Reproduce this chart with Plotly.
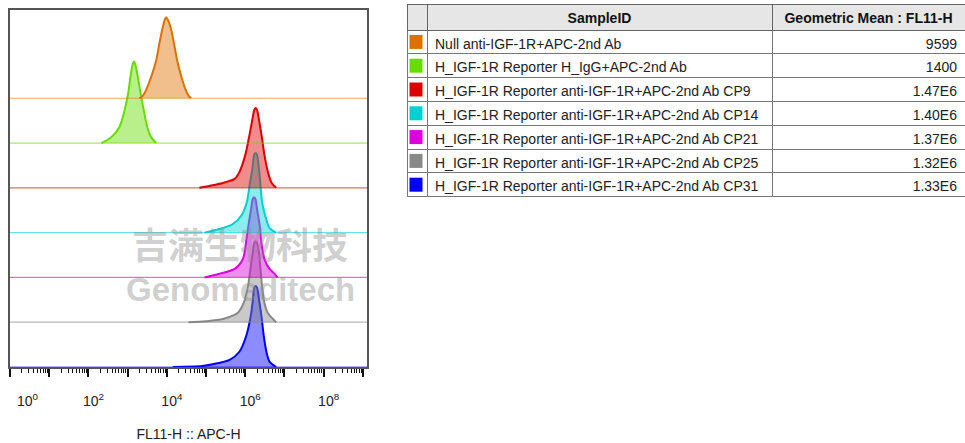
import plotly.graph_objects as go

W, H = 965, 443

# ---------------- data ----------------
samples = [
    "Null anti-IGF-1R+APC-2nd Ab",
    "H_IGF-1R Reporter H_IgG+APC-2nd Ab",
    "H_IGF-1R Reporter anti-IGF-1R+APC-2nd Ab CP9",
    "H_IGF-1R Reporter anti-IGF-1R+APC-2nd Ab CP14",
    "H_IGF-1R Reporter anti-IGF-1R+APC-2nd Ab CP21",
    "H_IGF-1R Reporter anti-IGF-1R+APC-2nd Ab CP25",
    "H_IGF-1R Reporter anti-IGF-1R+APC-2nd Ab CP31",
]
geo_means = ["9599", "1400", "1.47E6", "1.40E6", "1.37E6", "1.32E6", "1.33E6"]
colors = ["#dd7100", "#66dd00", "#dd0000", "#00d2d2", "#dd00dd", "#888888", "#0000ff"]
table_headers = ["", "SampleID", "Geometric Mean : FL11-H"]

# histogram outlines: log10(FL11-H) and normalised height (mode = ~1.8)
orange_logx = [3.30, 3.40, 3.47, 3.60, 3.73, 3.81, 3.90, 3.95, 3.98, 4.02, 4.09, 4.18, 4.26, 4.37, 4.48, 4.55, 4.62]
orange_h = [0.0, 0.07, 0.185, 0.48, 0.855, 1.23, 1.60, 1.76, 1.81, 1.76, 1.60, 1.23, 0.855, 0.48, 0.185, 0.06, 0.0]
green_logx = [2.33, 2.58, 2.79, 2.92, 3.01, 3.07, 3.13, 3.16, 3.19, 3.26, 3.33, 3.41, 3.50, 3.60, 3.73]
green_h = [0.0, 0.13, 0.36, 0.73, 1.10, 1.47, 1.77, 1.82, 1.77, 1.47, 1.10, 0.73, 0.36, 0.13, 0.0]
red_logx = [4.83, 5.13, 5.47, 5.73, 5.85, 6.00, 6.09, 6.17, 6.23, 6.26, 6.30, 6.36, 6.43, 6.49, 6.58, 6.68, 6.79]
red_h = [0.0, 0.05, 0.12, 0.20, 0.35, 0.73, 1.10, 1.47, 1.74, 1.78, 1.74, 1.47, 1.10, 0.73, 0.35, 0.10, 0.0]
cyan_logx = [4.96, 5.34, 5.68, 5.90, 6.04, 6.11, 6.18, 6.23, 6.26, 6.30, 6.35, 6.39, 6.43, 6.51, 6.62, 6.79]
cyan_h = [0.0, 0.08, 0.19, 0.38, 0.68, 1.05, 1.42, 1.74, 1.78, 1.74, 1.42, 1.05, 0.68, 0.38, 0.10, 0.0]
magenta_logx = [4.96, 5.34, 5.73, 5.94, 6.02, 6.08, 6.15, 6.19, 6.22, 6.26, 6.30, 6.37, 6.41, 6.49, 6.62, 6.75, 6.82]
magenta_h = [0.0, 0.08, 0.19, 0.41, 0.78, 1.15, 1.53, 1.75, 1.79, 1.75, 1.53, 1.15, 0.78, 0.41, 0.19, 0.08, 0.0]
gray_logx = [4.55, 5.00, 5.43, 5.81, 5.96, 6.07, 6.13, 6.19, 6.23, 6.26, 6.30, 6.35, 6.39, 6.43, 6.49, 6.58, 6.79]
gray_h = [0.0, 0.02, 0.07, 0.21, 0.43, 0.80, 1.18, 1.55, 1.77, 1.81, 1.77, 1.55, 1.18, 0.80, 0.43, 0.20, 0.0]
blue_logx = [4.15, 4.90, 5.17, 5.60, 5.85, 6.03, 6.13, 6.19, 6.23, 6.26, 6.30, 6.36, 6.42, 6.47, 6.54, 6.62, 6.79]
blue_h = [0.0, 0.02, 0.06, 0.16, 0.34, 0.71, 1.09, 1.46, 1.77, 1.81, 1.77, 1.46, 1.09, 0.71, 0.34, 0.12, 0.0]

curves_logx = [orange_logx, green_logx, red_logx, cyan_logx, magenta_logx, gray_logx, blue_logx]
curves_h = [orange_h, green_h, red_h, cyan_h, magenta_h, gray_h, blue_h]

major_exps = list(range(0, 10))
label_exps = [2, 4, 6, 8]      # 10^0 is drawn separately, nudged inward like the original
x_title = "FL11-H :: APC-H"


def rgba(hexc, a):
    h = hexc.lstrip("#")
    r, g, b = int(h[0:2], 16), int(h[2:4], 16), int(h[4:6], 16)
    return f"rgba({r},{g},{b},{a})"


fig = go.Figure()

n = len(samples)
XMIN, XMAX = 10 ** -0.06, 10 ** 9.107
# draw bottom histogram first, top last
for i in reversed(range(n)):
    off = n - 1 - i
    col = colors[i]
    fig.add_trace(go.Scatter(
        x=[XMIN, XMAX], y=[off, off], mode="lines",
        line=dict(color=rgba(col, 0.6), width=1.2), hoverinfo="skip", showlegend=False,
        cliponaxis=False))
    xs = [10 ** v for v in curves_logx[i]]
    ys = [off + v for v in curves_h[i]]
    fig.add_trace(go.Scatter(
        x=xs, y=ys, mode="lines", fill="tonexty", fillcolor=rgba(col, 0.45),
        line=dict(color=col, width=2, shape="spline", smoothing=0.8),
        hoverinfo="skip", showlegend=False, name=samples[i]))

# ---------------- axes ----------------
L, R, T, B = 10, 367, 10, 367
tickvals = [10 ** e for e in major_exps]
ticktext = [f"10<sup>{e}</sup>" if e in label_exps else "" for e in major_exps]
minor_vals = [k * 10 ** e for e in range(0, 9) for k in range(2, 10)]

fig.update_layout(
    width=W, height=H, margin=dict(l=0, r=0, t=0, b=0),
    paper_bgcolor="white", plot_bgcolor="white",
    font=dict(family="Liberation Sans, Arial, sans-serif", color="#222"),
    xaxis=dict(
        type="log", range=[-0.003, 9.107], domain=[L / W, R / W], automargin=False,
        showline=True, linecolor="#555", linewidth=1.5, mirror=True,
        showgrid=False, zeroline=False,
        tickmode="array", tickvals=tickvals, ticktext=ticktext,
        ticks="outside", ticklen=8, tickwidth=2.2, tickcolor="#111",
        tickfont=dict(size=14, color="#222"), ticklabelstandoff=12,
        ticklabelshift=5,
        minor=dict(tickmode="array", tickvals=minor_vals, ticks="outside",
                   ticklen=4, tickwidth=1.3, tickcolor="#111", showgrid=False),
        title=dict(text=x_title, font=dict(size=14, color="#222"), standoff=22),
    ),
    yaxis=dict(
        range=[0, 7.97], domain=[1 - B / H, 1 - T / H], automargin=False,
        showline=True, linecolor="#555", linewidth=1.5, mirror=True,
        showgrid=False, zeroline=False, showticklabels=False, ticks="",
    ),
)

# first decade label, placed on the axis but nudged inside like the original
fig.add_annotation(text="10<sup>0</sup>", x=0, xref="x", y=1 - 400 / H, yref="paper",
                   xanchor="center", yanchor="middle", xshift=18, showarrow=False,
                   font=dict(size=14, color="#222"))

# ---------------- table ----------------
TX0 = 407
hdr_h, row_h = 26, 23.8
fig.add_trace(go.Table(
    domain=dict(x=[TX0 / W, 1.0], y=[0, 1 - 4 / H]),
    columnwidth=[20, 345, 193],
    header=dict(
        values=table_headers,
        fill_color="#e6e6e6", line=dict(color="#666", width=1),
        align="center",
        font=dict(size=14, color="#111", family="Liberation Sans, Arial", weight="bold"),
        height=hdr_h,
    ),
    cells=dict(
        values=[[""] * n, samples, geo_means],
        fill_color=[["rgba(0,0,0,0)"] * n, ["rgba(0,0,0,0)"] * n, ["rgba(0,0,0,0)"] * n],
        line=dict(color="#777", width=1),
        align=["center", "left", "right"],
        font=dict(size=14, color="#222", family="Liberation Sans, Arial"),
        height=row_h,
    ),
))

# colour swatches in the first table column
for i, col in enumerate(colors):
    yc = 4 + hdr_h + row_h * i + row_h / 2
    fig.add_shape(type="rect", xref="paper", yref="paper",
                  x0=(TX0 + 2.5) / W, x1=(TX0 + 15.5) / W,
                  y0=1 - (yc - 7) / H, y1=1 - (yc + 7) / H,
                  fillcolor=col, line=dict(width=0), layer="below")

# ---------------- watermark ----------------
fig.add_annotation(text="<b>吉满生物科技</b>", xref="paper", yref="paper",
                   x=240 / W, y=1 - 243 / H, xanchor="center", yanchor="middle",
                   showarrow=False,
                   font=dict(size=36, color="rgba(140,140,140,0.42)",
                             family="Noto Sans CJK SC"))
fig.add_annotation(text="<b>Genomeditech</b>", xref="paper", yref="paper",
                   x=240 / W, y=1 - 289 / H, xanchor="center", yanchor="middle",
                   showarrow=False,
                   font=dict(size=33, color="rgba(140,140,140,0.42)",
                             family="Liberation Sans, Arial"))

fig.write_html("out.html", config={"displayModeBar": False},
               post_script="document.body.style.margin='0';document.body.style.overflow='hidden';")
